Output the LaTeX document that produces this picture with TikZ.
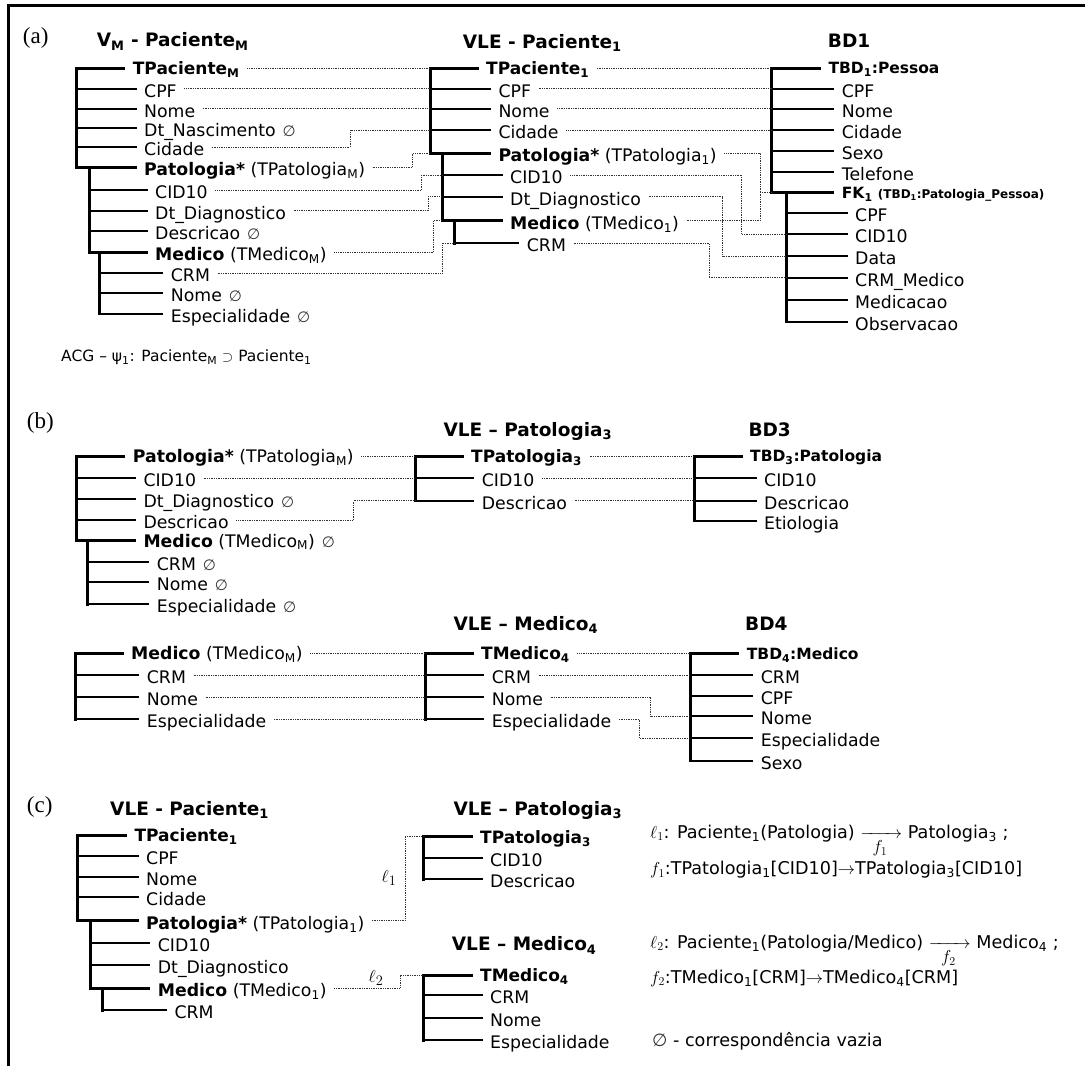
\documentclass[tikz,border=0pt]{standalone}
\usepackage{fontspec}
\usepackage{amsmath}
\setmainfont{DejaVu Sans}
\newfontfamily\lblfont{Liberation Serif}
\newcommand\sbs[1]{\textsubscript{#1}}
% empty correspondence mark
\newcommand\vz{\hspace{0.4em}{\fontsize{15}{15}\selectfont\color{black!80}∅}}
% branch from a trunk to a field, and the trunk itself
\newcommand\brn[3][brl]{\draw[#1] (#3.west -| #2) -- (#3.west);}
\newcommand\trunk[3]{\draw[barl] (#2.west -| #1) -- (#3.west -| #1);}

\begin{document}
\begin{tikzpicture}[x=1pt,y=-1pt,
  fld/.style={anchor=west, inner xsep=7.5pt, inner ysep=0pt, text height=17pt, text depth=0pt, font=\fontsize{17.3}{20}\selectfont},
  hdm/.style={fld, text height=13pt},
  thd/.style={fld, text height=13pt, font=\bfseries\fontsize{17}{20}\selectfont},
  bdh/.style={fld, text height=11.5pt, font=\bfseries\fontsize{15.5}{18}\selectfont},
  ttl/.style={anchor=base west, inner sep=0pt, font=\bfseries\fontsize{18.5}{22}\selectfont},
  sec/.style={anchor=west, inner sep=0pt, font=\lblfont\fontsize{23}{26}\selectfont},
  txt/.style={anchor=base west, inner sep=0pt, font=\fontsize{17.6}{21}\selectfont},
  lnk/.style={inner sep=0pt, font=\fontsize{19}{22}\selectfont},
  barl/.style={line width=3pt, line cap=rect},
  brl/.style={line width=2pt},
  hbrl/.style={line width=3pt},
  dotl/.style={line width=0.75pt, dash pattern=on 0.75pt off 1pt, black!80},
  frm/.style={line width=3pt}
]
\useasboundingbox (0,0) rectangle (1085,1066);
\draw[frm] (8,1066) -- (8,5.5) -- (1085,5.5);

%% ================= (a) =================
\node[sec] (la) at (22.7,38.3) {(a)};
\node[ttl] (hVM) at (96.7,46.7) {V\sbs{M} - Paciente\sbs{M}};
\node[ttl] (hV1) at (462.7,48) {VLE - Paciente\sbs{1}};
\node[ttl] (hB1) at (827.7,47) {BD1};

% V_M - Paciente_M
\coordinate (A1) at (76.7,0); \coordinate (A2) at (89.3,0); \coordinate (A3) at (99.3,0);
\node[thd] (tPacM) at (125.2,68) {TPaciente\sbs{M}};
\node[fld] (cpfM) at (136.5,88.5) {CPF};
\node[fld] (nomeM) at (136.5,108.5) {Nome};
\node[fld] (dtnM) at (136.5,127.5) {Dt\_Nascimento\vz};
\node[fld] (cidM) at (136.5,147) {Cidade};
\node[fld] (patM) at (136.5,167) {\textbf{Patologia*} (TPatologia\sbs{M})};
\node[fld] (cdM) at (147.5,190) {CID10};
\node[fld] (dtdM) at (147.5,210.7) {Dt\_Diagnostico};
\node[fld] (descM) at (147.5,231) {Descricao\vz};
\node[fld] (medM) at (147.5,252.3) {\textbf{Medico} (TMedico\sbs{M})};
\node[fld] (crmM) at (163.2,273.3) {CRM};
\node[fld] (nmM) at (163.2,293.3) {Nome\vz};
\node[fld] (espM) at (163.2,313.7) {Especialidade\vz};
\trunk{A1}{tPacM}{patM} \trunk{A2}{patM}{medM} \trunk{A3}{medM}{espM}
\brn[hbrl]{A1}{tPacM} \brn{A1}{cpfM} \brn{A1}{nomeM} \brn{A1}{dtnM} \brn{A1}{cidM} \brn[hbrl]{A1}{patM}
\brn{A2}{cdM} \brn{A2}{dtdM} \brn{A2}{descM} \brn[hbrl]{A2}{medM}
\brn{A3}{crmM} \brn{A3}{nmM} \brn{A3}{espM}

% VLE - Paciente_1
\coordinate (B1) at (430,0); \coordinate (B2) at (442.3,0); \coordinate (B3) at (454.3,0);
\node[thd] (tPac1) at (478.5,68) {TPaciente\sbs{1}};
\node[fld] (cpf1) at (490.8,88.5) {CPF};
\node[fld] (nome1) at (490.8,108.5) {Nome};
\node[fld] (cid1) at (490.8,130) {Cidade};
\node[fld] (pat1) at (490.8,153.3) {\textbf{Patologia*} (TPatologia\sbs{1})};
\node[fld] (cd1) at (502.5,175) {CID10};
\node[fld] (dtd1) at (502.5,196.7) {Dt\_Diagnostico};
\node[fld] (med1) at (502.5,220.7) {\textbf{Medico} (TMedico\sbs{1})};
\node[fld] (crm1) at (519.2,243.3) {CRM};
\trunk{B1}{tPac1}{pat1} \trunk{B2}{pat1}{med1} \trunk{B3}{med1}{crm1}
\brn[hbrl]{B1}{tPac1} \brn{B1}{cpf1} \brn{B1}{nome1} \brn{B1}{cid1} \brn[hbrl]{B1}{pat1}
\brn{B2}{cd1} \brn{B2}{dtd1} \brn[hbrl]{B2}{med1}
\brn{B3}{crm1}

% BD1
\coordinate (C1) at (771.7,0); \coordinate (C2) at (786.7,0);
\node[bdh] (tbd1) at (820.8,68) {TBD\sbs{1}:Pessoa};
\node[fld] (cpfD) at (834.2,88.5) {CPF};
\node[fld] (nomeD) at (834.2,108.5) {Nome};
\node[fld] (cidD) at (834.2,130) {Cidade};
\node[fld] (sexD) at (834.2,150.7) {Sexo};
\node[fld] (telD) at (834.2,171.7) {Telefone};
\node[bdh] (fk1) at (834.2,192.7) {FK\sbs{1} {\fontsize{12}{14}\selectfont (TBD\sbs{1}:Patologia\_Pessoa)}};
\node[fld] (cpfD2) at (847.5,213.3) {CPF};
\node[fld] (cidD2) at (847.5,234.3) {CID10};
\node[fld] (datD) at (847.5,256) {Data};
\node[fld] (crmD) at (847.5,277.7) {CRM\_Medico};
\node[fld] (mcD) at (847.5,300) {Medicacao};
\node[fld] (obsD) at (847.5,321.7) {Observacao};
\trunk{C1}{tbd1}{fk1} \trunk{C2}{fk1}{obsD}
\brn[hbrl]{C1}{tbd1} \brn{C1}{cpfD} \brn{C1}{nomeD} \brn{C1}{cidD} \brn{C1}{sexD} \brn{C1}{telD} \brn[hbrl]{C1}{fk1}
\brn{C2}{cpfD2} \brn{C2}{cidD2} \brn{C2}{datD} \brn{C2}{crmD} \brn{C2}{mcD} \brn{C2}{obsD}

% correspondences V_M -> VLE
\draw[dotl] (tPacM.east) -- (tPac1.west -| B1);
\draw[dotl] (cpfM.east) -- (cpf1.west -| B1);
\draw[dotl] (nomeM.east) -- (nome1.west -| B1);
\draw[dotl] (cidM.east) -- (cidM.east -| 350,0) |- (cid1.west -| B1);
\draw[dotl] (patM.east) -- (patM.east -| 412.7,0) |- (pat1.west -| B1);
\draw[dotl] (cdM.east) -- (cdM.east -| 421.7,0) |- (cd1.west -| B2);
\draw[dotl] (dtdM.east) -- (dtdM.east -| 428.3,0) |- (dtd1.west -| B2);
\draw[dotl] (medM.east) -- (medM.east -| 433.3,0) |- (med1.west -| B2);
\draw[dotl] (crmM.east) -- (crmM.east -| 442.3,0) |- (crm1.west -| B3);
% correspondences VLE -> BD1
\draw[dotl] (tPac1.east) -- (tbd1.west -| C1);
\draw[dotl] (cpf1.east) -- (cpfD.west -| C1);
\draw[dotl] (nome1.east) -- (nomeD.west -| C1);
\draw[dotl] (cid1.east) -- (cidD.west -| C1);
\coordinate (jFK) at (760,192.7);
\draw[dotl] (pat1.east) -| (jFK) -- (fk1.west -| C1);
\draw[dotl] (med1.east) -| (jFK);
\draw[dotl] (cd1.east) -- (cd1.east -| 741.7,0) |- (cidD2.west -| C2);
\draw[dotl] (dtd1.east) -- (dtd1.east -| 722.7,0) |- (datD.west -| C2);
\draw[dotl] (crm1.east) -- (crm1.east -| 709.3,0) |- (crmD.west -| C2);

\node[anchor=base west, inner sep=0pt, font=\fontsize{15.5}{18}\selectfont] (acg) at (61,361.7)
  {ACG – ψ\sbs{1}: Paciente\sbs{M} $\supset$ Paciente\sbs{1}};

%% ================= (b) =================
\node[sec] (lb) at (26.7,423.3) {(b)};
\node[ttl] (hP3) at (443.3,436) {VLE – Patologia\sbs{3}};
\node[ttl] (hB3) at (748.3,436) {BD3};

\coordinate (D1) at (76.7,0); \coordinate (D2) at (87.3,0);
\node[hdm] (pBh) at (125.2,456) {\textbf{Patologia*} (TPatologia\sbs{M})};
\node[fld] (cdB) at (135.8,478) {CID10};
\node[fld] (dtdB) at (135.8,499.3) {Dt\_Diagnostico\vz};
\node[fld] (dsB) at (135.8,520) {Descricao};
\node[hdm] (mdB) at (135.8,540.5) {\textbf{Medico} (TMedico\sbs{M})\vz};
\node[fld] (crmB) at (149.2,561.7) {CRM\vz};
\node[fld] (nmB) at (149.2,582.3) {Nome\vz};
\node[fld] (espB) at (149.2,604) {Especialidade\vz};
\trunk{D1}{pBh}{mdB} \trunk{D2}{mdB}{espB}
\brn[hbrl]{D1}{pBh} \brn{D1}{cdB} \brn{D1}{dtdB} \brn{D1}{dsB} \brn[hbrl]{D1}{mdB}
\brn{D2}{crmB} \brn{D2}{nmB} \brn{D2}{espB}

\coordinate (E1) at (415,0);
\node[thd] (tP3) at (463.5,456) {TPatologia\sbs{3}};
\node[fld] (cdP3) at (474.2,478) {CID10};
\node[fld] (dsP3) at (474.2,500.7) {Descricao};
\trunk{E1}{tP3}{dsP3}
\brn[hbrl]{E1}{tP3} \brn{E1}{cdP3} \brn{E1}{dsP3}

\coordinate (F1) at (694,0);
\node[bdh] (tbd3) at (742.5,456) {TBD\sbs{3}:Patologia};
\node[fld] (cdD3) at (756.5,478) {CID10};
\node[fld] (dsD3) at (756.5,500.7) {Descricao};
\node[fld] (etD3) at (756.5,520.7) {Etiologia};
\trunk{F1}{tbd3}{etD3}
\brn[hbrl]{F1}{tbd3} \brn{F1}{cdD3} \brn{F1}{dsD3} \brn{F1}{etD3}

\draw[dotl] (pBh.east) -- (tP3.west -| E1);
\draw[dotl] (cdB.east) -- (cdP3.west -| E1);
\draw[dotl] (dsB.east) -- (dsB.east -| 353.3,0) |- (dsP3.west -| E1);
\draw[dotl] (tP3.east) -- (tbd3.west -| F1);
\draw[dotl] (cdP3.east) -- (cdD3.west -| F1);
\draw[dotl] (dsP3.east) -- (dsD3.west -| F1);

\node[ttl] (hM4) at (453.3,630) {VLE – Medico\sbs{4}};
\node[ttl] (hB4) at (745,630) {BD4};

\coordinate (G1) at (75,0);
\node[hdm] (mGh) at (123.5,653.3) {\textbf{Medico} (TMedico\sbs{M})};
\node[fld] (crmG) at (139.2,675) {CRM};
\node[fld] (nmG) at (139.2,697) {Nome};
\node[fld] (espG) at (139.2,719) {Especialidade};
\trunk{G1}{mGh}{espG}
\brn[hbrl]{G1}{mGh} \brn{G1}{crmG} \brn{G1}{nmG} \brn{G1}{espG}

\coordinate (H1) at (425,0);
\node[thd] (tM4) at (473.5,653.3) {TMedico\sbs{4}};
\node[fld] (crmH) at (484.2,675) {CRM};
\node[fld] (nmH) at (484.2,697) {Nome};
\node[fld] (espH) at (484.2,719) {Especialidade};
\trunk{H1}{tM4}{espH}
\brn[hbrl]{H1}{tM4} \brn{H1}{crmH} \brn{H1}{nmH} \brn{H1}{espH}

\coordinate (I1) at (690,0);
\node[bdh] (tbd4) at (739.2,653.3) {TBD\sbs{4}:Medico};
\node[fld] (crmI) at (753.2,675) {CRM};
\node[fld] (cpfI) at (753.2,696) {CPF};
\node[fld] (nmI) at (753.2,716) {Nome};
\node[fld] (espI) at (753.2,738.3) {Especialidade};
\node[fld] (sxI) at (753.2,760.7) {Sexo};
\trunk{I1}{tbd4}{sxI}
\brn[hbrl]{I1}{tbd4} \brn{I1}{crmI} \brn{I1}{cpfI} \brn{I1}{nmI} \brn{I1}{espI} \brn{I1}{sxI}

\draw[dotl] (mGh.east) -- (tM4.west -| H1);
\draw[dotl] (crmG.east) -- (crmH.west -| H1);
\draw[dotl] (nmG.east) -- (nmH.west -| H1);
\draw[dotl] (espG.east) -- (espH.west -| H1);
\draw[dotl] (tM4.east) -- (tbd4.west -| I1);
\draw[dotl] (crmH.east) -- (crmI.west -| I1);
\draw[dotl] (nmH.east) -- (nmH.east -| 650.7,0) |- (nmI.west -| I1);
\draw[dotl] (espH.east) -- (espH.east -| 639.3,0) |- (espI.west -| I1);

%% ================= (c) =================
\node[sec] (lc) at (26.7,807.3) {(c)};
\node[ttl] (hC1) at (110,815) {VLE - Paciente\sbs{1}};
\node[ttl] (hC3) at (453.3,815) {VLE – Patologia\sbs{3}};
\node[ttl] (hC4) at (451.7,950.7) {VLE – Medico\sbs{4}};

\coordinate (J1) at (77.7,0); \coordinate (J2) at (90.7,0); \coordinate (J3) at (102.7,0);
\node[thd] (tPC) at (126.8,835) {TPaciente\sbs{1}};
\node[fld] (cpfC) at (138.5,856) {CPF};
\node[fld] (nmC) at (138.5,876.7) {Nome};
\node[fld] (cdC) at (138.5,897.3) {Cidade};
\node[fld] (ptC) at (138.5,920.7) {\textbf{Patologia*} (TPatologia\sbs{1})};
\node[fld] (c10C) at (150.2,942.7) {CID10};
\node[fld] (dtdC) at (150.2,965) {Dt\_Diagnostico};
\node[fld] (mdC) at (150.2,988.3) {\textbf{Medico} (TMedico\sbs{1})};
\node[fld] (crmC) at (166.8,1010) {CRM};
\trunk{J1}{tPC}{ptC} \trunk{J2}{ptC}{mdC} \trunk{J3}{mdC}{crmC}
\brn[hbrl]{J1}{tPC} \brn{J1}{cpfC} \brn{J1}{nmC} \brn{J1}{cdC} \brn[hbrl]{J1}{ptC}
\brn{J2}{c10C} \brn{J2}{dtdC} \brn[hbrl]{J2}{mdC}
\brn{J3}{crmC}

\coordinate (K1) at (423.3,0);
\node[thd] (tP3c) at (472.5,836.7) {TPatologia\sbs{3}};
\node[fld] (cdK) at (482.5,858) {CID10};
\node[fld] (dsK) at (482.5,879) {Descricao};
\trunk{K1}{tP3c}{dsK}
\brn[hbrl]{K1}{tP3c} \brn{K1}{cdK} \brn{K1}{dsK}

\coordinate (L1) at (423.3,0);
\node[thd] (tM4c) at (472.5,975) {TMedico\sbs{4}};
\node[fld] (crmL) at (482.5,995) {CRM};
\node[fld] (nmL) at (482.5,1017.7) {Nome};
\node[fld] (espL) at (482.5,1040) {Especialidade};
\trunk{L1}{tM4c}{espL}
\brn[hbrl]{L1}{tM4c} \brn{L1}{crmL} \brn{L1}{nmL} \brn{L1}{espL}

\draw[dotl] (ptC.east) -- (ptC.east -| 405,0) |- (tP3c.west -| K1);
\draw[dotl] (mdC.east) -- (mdC.east -| 400,0) |- (tM4c.west -| L1);
\node[lnk] (l1) at (389,878) {$\ell_1$};
\node[lnk] (l2) at (376,978) {$\ell_2$};

\node[txt] (l1t) at (650,838) {$\ell_1$: Paciente\sbs{1}(Patologia) $\xrightarrow[\textstyle f_1]{\hspace{1.85em}}$ Patologia\sbs{3} ;};
\node[txt] (f1t) at (650,874.5) {$f_1$:TPatologia\sbs{1}[CID10]$\rightarrow$TPatologia\sbs{3}[CID10]};
\node[txt] (l2t) at (650,948) {$\ell_2$: Paciente\sbs{1}(Patologia/Medico) $\xrightarrow[\textstyle f_2]{\hspace{1.85em}}$ Medico\sbs{4} ;};
\node[txt] (f2t) at (650,983) {$f_2$:TMedico\sbs{1}[CRM]$\rightarrow$TMedico\sbs{4}[CRM]};
\node[txt] (leg) at (652,1046) {{\color{black!80}∅} - correspondência vazia};
\end{tikzpicture}
\end{document}
